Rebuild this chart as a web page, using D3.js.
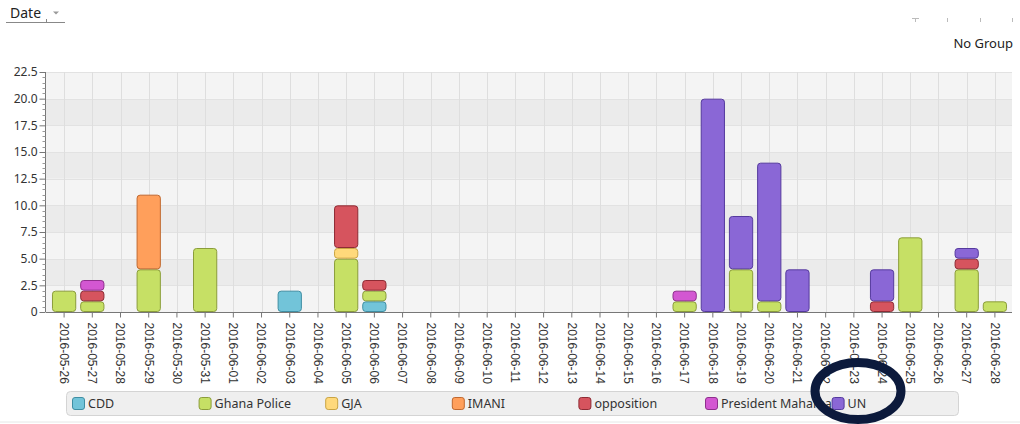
<!DOCTYPE html>
<html>
<head>
<meta charset="utf-8">
<script src="https://cdn.jsdelivr.net/npm/d3@7"></script>
<style>
  body { margin: 0; background: #fff; }
  svg { display: block; }
</style>
</head>
<body>
<div id="chart"></div>
<script>
var dates = ["2016-05-26","2016-05-27","2016-05-28","2016-05-29","2016-05-30","2016-05-31",
  "2016-06-01","2016-06-02","2016-06-03","2016-06-04","2016-06-05","2016-06-06","2016-06-07",
  "2016-06-08","2016-06-09","2016-06-10","2016-06-11","2016-06-12","2016-06-13","2016-06-14",
  "2016-06-15","2016-06-16","2016-06-17","2016-06-18","2016-06-19","2016-06-20","2016-06-21",
  "2016-06-22","2016-06-23","2016-06-24","2016-06-25","2016-06-26","2016-06-27","2016-06-28"]

var groups = ["CDD","Ghana Police","GJA","IMANI","opposition","President Mahama","UN"]
var fills   = ["#72c4d9","#c6e065","#ffd97b","#ff9f5b","#d6545e","#d357d2","#8a67d6"]
var strokes = ["#3f8ea3","#8b9d3a","#c9a443","#c0682f","#8e2b34","#8f2f8d","#553a9e"]

// counts per date (only non-zero dates listed)
var cdd          = {"2016-06-03":2, "2016-06-06":1}
var ghanaPolice  = {"2016-05-26":2, "2016-05-27":1, "2016-05-29":4, "2016-05-31":6, "2016-06-05":5,
                    "2016-06-06":1, "2016-06-17":1, "2016-06-19":4, "2016-06-20":1, "2016-06-25":7,
                    "2016-06-27":4, "2016-06-28":1}
var gja          = {"2016-06-05":1}
var imani        = {"2016-05-29":7}
var opposition   = {"2016-05-27":1, "2016-06-05":4, "2016-06-06":1, "2016-06-24":1, "2016-06-27":1}
var mahama       = {"2016-05-27":1, "2016-06-17":1}
var un           = {"2016-06-18":20, "2016-06-19":5, "2016-06-20":13, "2016-06-21":4, "2016-06-24":3,
                    "2016-06-27":1}

var yTicks = [0, 2.5, 5, 7.5, 10, 12.5, 15, 17.5, 20, 22.5]

var seriesData = [cdd, ghanaPolice, gja, imani, opposition, mahama, un]

var W = 1020, H = 424
var plot = {left: 46, right: 1012, top: 72, bottom: 312}

var svg = d3.select("#chart").append("svg").attr("width", W).attr("height", H)
  .style("font-family", "'Liberation Sans', Arial, sans-serif")

// header bits
var hdr = svg.append("g")
hdr.append("text").attr("x", 10).attr("y", 18).attr("font-size", 14)
  .attr("font-family", "'Noto Sans', sans-serif").attr("fill", "#222").text("Date")
hdr.append("line").attr("x1", 6).attr("x2", 65).attr("y1", 22.5).attr("y2", 22.5).attr("stroke", "#888")
hdr.append("line").attr("x1", 46.5).attr("x2", 46.5).attr("y1", 19).attr("y2", 22.5).attr("stroke", "#888")
hdr.append("path").attr("d", "M53,11.5L59,11.5L56,14.5Z").attr("fill", "#999")
hdr.append("line").attr("x1", 912).attr("x2", 919).attr("y1", 18.5).attr("y2", 18.5).attr("stroke", "#bbb")
;[915.5, 947.5, 980.5, 1012.5].forEach(function(x){
  hdr.append("line").attr("x1", x).attr("x2", x).attr("y1", 18).attr("y2", 22).attr("stroke", "#bbb")
})
hdr.append("text").attr("x", 1013).attr("y", 48).attr("text-anchor", "end").attr("font-size", 13)
  .attr("font-family", "'Noto Sans', sans-serif").attr("fill", "#222").text("No Group")

var x = d3.scaleBand().domain(dates).range([50, 1009]).paddingInner(0.14).paddingOuter(0.07)
var y = d3.scaleLinear().domain([0, 22.5]).range([plot.bottom, plot.top])

// background bands
var g = svg.append("g")
g.selectAll(".band").data(d3.range(yTicks.length - 1)).enter().append("rect")
  .attr("x", plot.left).attr("width", plot.right - plot.left)
  .attr("y", function(i){ return y(yTicks[i + 1]) })
  .attr("height", function(i){ return y(yTicks[i]) - y(yTicks[i + 1]) })
  .attr("fill", function(i){ return i % 2 ? "#ebebeb" : "#f4f4f4" })

// grid lines
g.selectAll(".hgrid").data(yTicks.slice(1)).enter().append("line")
  .attr("x1", plot.left).attr("x2", plot.right)
  .attr("y1", function(d){ return Math.round(y(d)) + 0.5 }).attr("y2", function(d){ return Math.round(y(d)) + 0.5 })
  .attr("stroke", "#e2e2e2")
g.selectAll(".vgrid").data(dates).enter().append("line")
  .attr("x1", function(d){ return Math.round(x(d) + x.bandwidth() / 2) + 0.5 })
  .attr("x2", function(d){ return Math.round(x(d) + x.bandwidth() / 2) + 0.5 })
  .attr("y1", plot.top).attr("y2", plot.bottom)
  .attr("stroke", "#dedede")

// stacked bars
var rows = dates.map(function(d){
  var r = {date: d}
  groups.forEach(function(k, i){ r[k] = seriesData[i][d] || 0 })
  return r
})
var stack = d3.stack().keys(groups)(rows)

stack.forEach(function(layer, i){
  g.selectAll(".bar" + i).data(layer.filter(function(s){ return s[1] > s[0] })).enter().append("rect")
    .attr("x", function(s){ return x(s.data.date) + 0.5 })
    .attr("width", x.bandwidth() - 1)
    .attr("y", function(s){ return y(s[1]) + 0.5 })
    .attr("height", function(s){ return y(s[0]) - y(s[1]) - 1 })
    .attr("rx", 3).attr("ry", 3)
    .attr("fill", fills[i]).attr("stroke", strokes[i]).attr("stroke-width", 1)
})

// y axis
var yAxis = d3.axisLeft(y).tickValues(yTicks).tickSize(6)
  .tickFormat(function(d){ return d === 0 ? "0" : d3.format(".1f")(d) })
var ya = svg.append("g").attr("transform", "translate(" + (plot.left - 0.5) + ",0)").call(yAxis)
ya.select(".domain").attr("stroke", "#777").attr("d", "M0," + plot.top + "V" + plot.bottom)
ya.selectAll(".tick line").attr("stroke", "#777")
ya.selectAll(".tick text").attr("font-size", 12).attr("fill", "#333").attr("x", -8)
  .attr("font-family", "'Noto Sans', sans-serif")
var minor = d3.range(0, 22.5, 0.5).filter(function(v){ return v % 2.5 !== 0 })
ya.selectAll(".minor").data(minor).enter().append("line")
  .attr("x1", -3).attr("x2", 0)
  .attr("y1", function(d){ return Math.round(y(d)) + 0.5 }).attr("y2", function(d){ return Math.round(y(d)) + 0.5 })
  .attr("stroke", "#999")

// x axis
var xAxis = d3.axisBottom(x).tickSize(5).tickSizeOuter(0)
var xa = svg.append("g").attr("transform", "translate(0," + (plot.bottom + 0.5) + ")").call(xAxis)
xa.select(".domain").attr("stroke", "#777").attr("d", "M" + plot.left + ",0H" + plot.right)
xa.selectAll(".tick line").attr("stroke", "#777")
xa.selectAll(".tick text")
  .attr("transform", "rotate(90)")
  .attr("x", 10).attr("y", 0).attr("dy", "0.35em")
  .attr("text-anchor", "start")
  .attr("font-size", 12).attr("fill", "#333")

// legend
var lg = svg.append("g")
lg.append("rect").attr("x", 66.5).attr("y", 391.5).attr("width", 892).attr("height", 24)
  .attr("rx", 4).attr("fill", "#efefef").attr("stroke", "#d4d4d4")
var li = lg.selectAll(".li").data(groups).enter().append("g")
  .attr("transform", function(d, i){ return "translate(" + (72 + i * 126.6) + ",397)" })
li.append("rect").attr("x", 0.5).attr("y", 0.5).attr("width", 12).attr("height", 12).attr("rx", 2.5)
  .attr("fill", function(d, i){ return fills[i] }).attr("stroke", function(d, i){ return strokes[i] })
li.append("text").attr("x", 16).attr("y", 11).attr("font-size", 12.5)
  .attr("font-family", "'Noto Sans', sans-serif").attr("fill", "#333").text(function(d){ return d })

svg.append("line").attr("x1", 0).attr("x2", W).attr("y1", 422).attr("y2", 422).attr("stroke", "#e6e6e6")

// hand-drawn highlight ring
svg.append("ellipse").attr("cx", 858).attr("cy", 391).attr("rx", 43).attr("ry", 28.5)
  .attr("fill", "none").attr("stroke", "#0c1a3c").attr("stroke-width", 9)
</script>
</body>
</html>
